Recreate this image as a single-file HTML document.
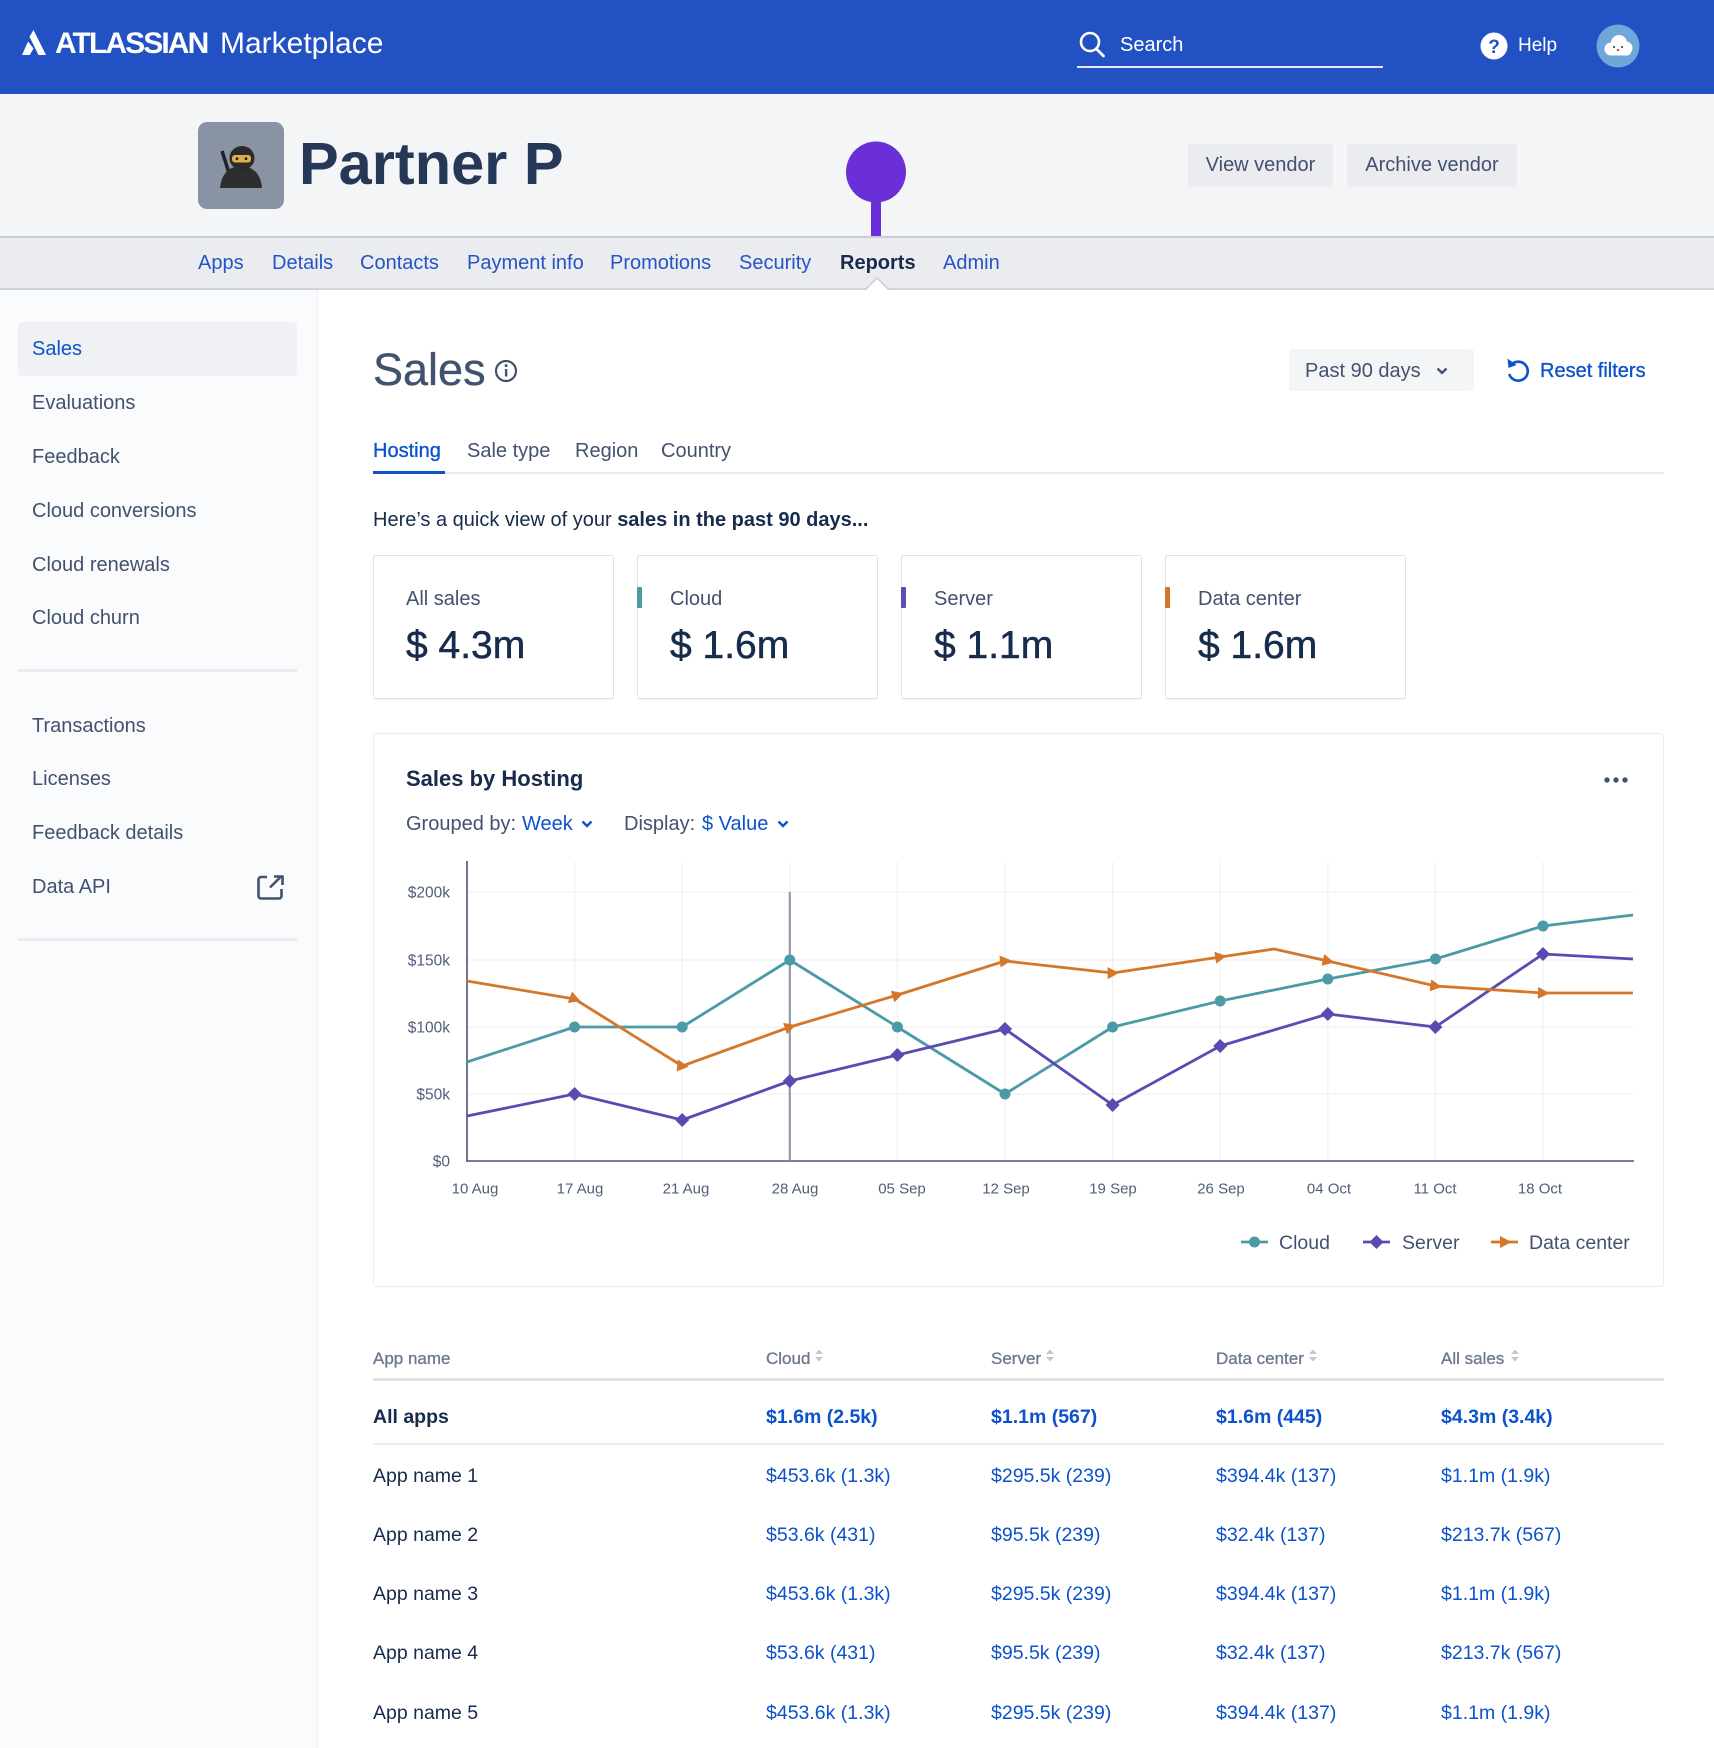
<!DOCTYPE html>
<html><head><meta charset="utf-8">
<style>
*{margin:0;padding:0;box-sizing:border-box}
html,body{width:1714px;height:1748px;overflow:hidden;background:#fff}
body{position:relative;font-family:"Liberation Sans",Arial,sans-serif;}
.a{position:absolute}
.t{position:absolute;line-height:1;white-space:nowrap}
.m{-webkit-text-stroke:0.35px currentColor}
.side{font-size:20px;color:#42526e;left:32px}
.nav{font-size:20px;color:#2453c6;top:252.5px}
.card{position:absolute;top:555px;width:241px;height:144px;border:1px solid #dfe1e6;border-radius:3px;background:#fff;box-shadow:0 1px 1px rgba(9,30,66,0.06)}
.cl{position:absolute;left:32px;top:33px;font-size:20px;line-height:1;color:#42526e;white-space:nowrap}
.cv{position:absolute;left:32px;top:70px;font-size:39px;line-height:1;color:#172b4d;white-space:nowrap;-webkit-text-stroke:0.5px #172b4d}
.bar{position:absolute;left:-1px;top:31px;width:5px;height:21px;border-radius:1px}
.th{font-size:17px;color:#6b778c;top:1349.5px;-webkit-text-stroke:0.3px #6b778c}
.tb{font-size:19.5px;font-weight:bold;top:1408px;color:#0c52cc}
.td{font-size:19.5px;color:#0c52cc}
.tn{font-size:19.5px;color:#172b4d;left:373px}
</style></head><body>

<!-- backgrounds -->
<div class="a" style="left:0;top:0;width:1714px;height:94px;background:#2251c4"></div>
<div class="a" style="left:0;top:94px;width:1714px;height:142px;background:#f4f5f7"></div>
<div class="a" style="left:0;top:236px;width:1714px;height:54px;background:#ebecf0;border-top:2px solid #c8ccd4;border-bottom:2px solid #d0d4db"></div>
<div class="a" style="left:0;top:290px;width:318px;height:1458px;background:#fafbfc;border-right:1px solid #eceef1"></div>
<div class="a" style="left:18px;top:322px;width:279px;height:54px;background:#f0f1f4;border-radius:4px"></div>
<div class="a" style="left:18px;top:669px;width:279px;height:3px;background:#ebecf0"></div>
<div class="a" style="left:18px;top:938px;width:279px;height:3px;background:#ebecf0"></div>

<!-- buttons -->
<div class="a" style="left:1188px;top:144px;width:145px;height:43px;background:#ebecf0;border-radius:3px;font-size:20px;line-height:43px;text-align:center;color:#42526e">View vendor</div>
<div class="a" style="left:1347px;top:144px;width:170px;height:43px;background:#ebecf0;border-radius:3px;font-size:20px;line-height:43px;text-align:center;color:#42526e">Archive vendor</div>
<div class="a" style="left:1289px;top:349px;width:185px;height:42px;background:#f4f5f7;border-radius:3px"></div>

<!-- tabs lines -->
<div class="a" style="left:373px;top:472px;width:1291px;height:2px;background:#ebecf0"></div>
<div class="a" style="left:373px;top:471px;width:72px;height:3px;background:#0c52cc"></div>

<!-- cards -->
<div class="card" style="left:373px"><div class="cl">All sales</div><div class="cv">$ 4.3m</div></div>
<div class="card" style="left:637px"><div class="bar" style="background:#4a9ba3"></div><div class="cl">Cloud</div><div class="cv">$ 1.6m</div></div>
<div class="card" style="left:901px"><div class="bar" style="background:#5e4db2"></div><div class="cl">Server</div><div class="cv">$ 1.1m</div></div>
<div class="card" style="left:1165px"><div class="bar" style="background:#d2752a"></div><div class="cl">Data center</div><div class="cv">$ 1.6m</div></div>

<!-- chart card -->
<div class="a" style="left:373px;top:733px;width:1291px;height:554px;border:1px solid #ebecf0;border-radius:4px;background:#fff"></div>

<!-- table lines -->
<div class="a" style="left:373px;top:1378px;width:1291px;height:3px;background:#dfe1e6"></div>
<div class="a" style="left:373px;top:1443px;width:1291px;height:2px;background:#ebecf0"></div>

<svg class="a" style="left:0;top:0" width="1714" height="1748" xmlns="http://www.w3.org/2000/svg">
<!-- logo mark -->
<polygon points="33.5,30 46,55 38.5,55 29.5,36.8" fill="#fff"/>
<polygon points="28,41.5 33.5,48.5 29.8,55 22,55" fill="#fff"/>
<!-- search -->
<circle cx="1090" cy="42" r="9" fill="none" stroke="#fff" stroke-width="2.6"/>
<line x1="1096.5" y1="49" x2="1103.5" y2="56" stroke="#fff" stroke-width="2.8" stroke-linecap="round"/>
<rect x="1077" y="66" width="306" height="2" fill="#e3e9f8"/>
<!-- help -->
<circle cx="1494" cy="46" r="13.5" fill="#fff"/>
<text x="1494" y="53" font-family="Liberation Sans" font-size="19" font-weight="bold" fill="#2251c4" text-anchor="middle">?</text>
<!-- user avatar -->
<circle cx="1618" cy="46" r="21.5" fill="#6fa7d8"/>
<circle cx="1611" cy="49" r="6.5" fill="#fff"/>
<circle cx="1619" cy="43" r="8" fill="#fff"/>
<circle cx="1626" cy="48" r="6.5" fill="#fff"/>
<rect x="1607" y="47" width="24" height="8.5" rx="4" fill="#fff"/>
<circle cx="1614" cy="47" r="1" fill="#333"/>
<circle cx="1622" cy="47" r="1" fill="#333"/>
<circle cx="1618" cy="50" r="1.3" fill="#e0566a"/>
<!-- partner avatar -->
<rect x="198" y="122" width="86" height="87" rx="9" fill="#8993a4"/>
<line x1="222" y1="151" x2="229" y2="173" stroke="#222" stroke-width="3.5"/>
<path d="M220,188 Q222,167 241,166 Q260,167 262,188 Z" fill="#2e2e2e"/>
<ellipse cx="242" cy="158" rx="12.5" ry="12" fill="#2b2b2b"/>
<rect x="232" y="155" width="19" height="7.5" rx="3" fill="#e2b04a"/>
<circle cx="237" cy="158.7" r="1.4" fill="#222"/>
<circle cx="246" cy="158.7" r="1.4" fill="#222"/>
<!-- pin -->
<rect x="871" y="190" width="10" height="46" fill="#6a2fd6"/>
<ellipse cx="876" cy="172" rx="30" ry="30.5" fill="#6a2fd6"/>
<!-- nav triangle -->
<polygon points="865,291 877,278 889,291" fill="#fff"/>
<polyline points="865,290 877,278 889,290" fill="none" stroke="#c8ccd4" stroke-width="1.5"/>
<!-- info icon -->
<circle cx="506" cy="371" r="10" fill="none" stroke="#42526e" stroke-width="2.2"/>
<rect x="504.9" y="369" width="2.4" height="7.5" fill="#42526e"/>
<circle cx="506.1" cy="365.6" r="1.5" fill="#42526e"/>
<!-- dropdown chevron -->
<polyline points="1437.5,368.5 1442,373 1446.5,368.5" fill="none" stroke="#42526e" stroke-width="2.3"/>
<!-- reset icon -->
<path d="M1511.5,364.5 A9.5,9.5 0 1 1 1509.2,374" fill="none" stroke="#0c52cc" stroke-width="2.6"/>
<polygon points="1507.5,358.5 1508.5,368 1516.5,365" fill="#0c52cc"/>
<!-- external link icon -->
<path d="M267,877 H261 a2.5,2.5 0 0 0 -2.5,2.5 V896 a2.5,2.5 0 0 0 2.5,2.5 H279 a2.5,2.5 0 0 0 2.5,-2.5 V889" fill="none" stroke="#42526e" stroke-width="2.6"/>
<line x1="270" y1="887.5" x2="281" y2="876.5" stroke="#42526e" stroke-width="2.6"/>
<polyline points="274,876.5 282.5,876.5 282.5,885" fill="none" stroke="#42526e" stroke-width="2.6"/>
<!-- more dots -->
<circle cx="1607" cy="780" r="2.7" fill="#42526e"/>
<circle cx="1616" cy="780" r="2.7" fill="#42526e"/>
<circle cx="1625" cy="780" r="2.7" fill="#42526e"/>
<!-- filter chevrons -->
<polyline points="582.5,821.5 587,826 591.5,821.5" fill="none" stroke="#0c52cc" stroke-width="2.4"/>
<polyline points="778.5,821.5 783,826 787.5,821.5" fill="none" stroke="#0c52cc" stroke-width="2.4"/>

<!-- chart grid -->
<g stroke="#f0f1f3" stroke-width="1.2">
<line x1="467" y1="892" x2="1633" y2="892"/>
<line x1="467" y1="960" x2="1633" y2="960"/>
<line x1="467" y1="1027" x2="1633" y2="1027"/>
<line x1="467" y1="1094" x2="1633" y2="1094"/>
<line x1="574.6" y1="862" x2="574.6" y2="1161"/>
<line x1="682.2" y1="862" x2="682.2" y2="1161"/>
<line x1="789.8" y1="862" x2="789.8" y2="1161"/>
<line x1="897.4" y1="862" x2="897.4" y2="1161"/>
<line x1="1005" y1="862" x2="1005" y2="1161"/>
<line x1="1112.6" y1="862" x2="1112.6" y2="1161"/>
<line x1="1220.2" y1="862" x2="1220.2" y2="1161"/>
<line x1="1327.8" y1="862" x2="1327.8" y2="1161"/>
<line x1="1435.4" y1="862" x2="1435.4" y2="1161"/>
<line x1="1543" y1="862" x2="1543" y2="1161"/>
</g>
<line x1="467" y1="861" x2="467" y2="1161" stroke="#4a5670" stroke-width="1.6"/>
<line x1="466" y1="1161" x2="1634" y2="1161" stroke="#4a5670" stroke-width="1.6"/>
<line x1="789.8" y1="892" x2="789.8" y2="1161" stroke="#8993a4" stroke-width="2"/>

<g font-family="Liberation Sans" font-size="15.5" fill="#505f79" text-anchor="end">
<text x="450" y="897.5">$200k</text>
<text x="450" y="965.5">$150k</text>
<text x="450" y="1032.5">$100k</text>
<text x="450" y="1099.5">$50k</text>
<text x="450" y="1166.5">$0</text>
</g>
<g font-family="Liberation Sans" font-size="15" fill="#505f79" text-anchor="middle">
<text x="475" y="1193.5">10 Aug</text>
<text x="580" y="1193.5">17 Aug</text>
<text x="686" y="1193.5">21 Aug</text>
<text x="795" y="1193.5">28 Aug</text>
<text x="902" y="1193.5">05 Sep</text>
<text x="1006" y="1193.5">12 Sep</text>
<text x="1113" y="1193.5">19 Sep</text>
<text x="1221" y="1193.5">26 Sep</text>
<text x="1329" y="1193.5">04 Oct</text>
<text x="1435" y="1193.5">11 Oct</text>
<text x="1540" y="1193.5">18 Oct</text>
</g>

<!-- series -->
<polyline fill="none" stroke="#4a9ba6" stroke-width="2.8" stroke-linejoin="round" points="467,1062 574.6,1027 682.2,1027 789.8,960 897.4,1027 1005,1094 1112.6,1027 1220.2,1001 1327.8,979 1435.4,959 1543,926 1633,915"/>
<polyline fill="none" stroke="#5b4ab1" stroke-width="2.8" stroke-linejoin="round" points="467,1116 574.6,1094 682.2,1120 789.8,1081 897.4,1055 1005,1029 1112.6,1105 1220.2,1046 1327.8,1014 1435.4,1027 1543,954 1633,959"/>
<polyline fill="none" stroke="#d4772b" stroke-width="2.8" stroke-linejoin="round" points="467,981 574.6,999 682.2,1066 789.8,1027 897.4,995 1005,961 1112.6,973 1220.2,957 1274,949 1327.8,961 1435.4,986 1543,993 1633,993"/>

<g fill="#4a9ba6">
<circle cx="574.6" cy="1027" r="5.5"/><circle cx="682.2" cy="1027" r="5.5"/><circle cx="789.8" cy="960" r="5.5"/>
<circle cx="897.4" cy="1027" r="5.5"/><circle cx="1005" cy="1094" r="5.5"/><circle cx="1112.6" cy="1027" r="5.5"/>
<circle cx="1220.2" cy="1001" r="5.5"/><circle cx="1327.8" cy="979" r="5.5"/><circle cx="1435.4" cy="959" r="5.5"/>
<circle cx="1543" cy="926" r="5.5"/>
</g>
<g fill="#5b4ab1">
<polygon points="574.6,1087 581.6,1094 574.6,1101 567.6,1094"/>
<polygon points="682.2,1113 689.2,1120 682.2,1127 675.2,1120"/>
<polygon points="789.8,1074 796.8,1081 789.8,1088 782.8,1081"/>
<polygon points="897.4,1048 904.4,1055 897.4,1062 890.4,1055"/>
<polygon points="1005,1022 1012,1029 1005,1036 998,1029"/>
<polygon points="1112.6,1098 1119.6,1105 1112.6,1112 1105.6,1105"/>
<polygon points="1220.2,1039 1227.2,1046 1220.2,1053 1213.2,1046"/>
<polygon points="1327.8,1007 1334.8,1014 1327.8,1021 1320.8,1014"/>
<polygon points="1435.4,1020 1442.4,1027 1435.4,1034 1428.4,1027"/>
<polygon points="1543,947 1550,954 1543,961 1536,954"/>
</g>
<g fill="#d4772b">
<polygon points="-5,-6 6.5,0 -5,6" transform="translate(574.6,999) rotate(20.7)"/>
<polygon points="-5,-6 6.5,0 -5,6" transform="translate(682.2,1066) rotate(6)"/>
<polygon points="-5,-6 6.5,0 -5,6" transform="translate(789.8,1027) rotate(-18.3)"/>
<polygon points="-5,-6 6.5,0 -5,6" transform="translate(897.4,995) rotate(-17)"/>
<polygon points="-5,-6 6.5,0 -5,6" transform="translate(1005,961) rotate(-5.5)"/>
<polygon points="-5,-6 6.5,0 -5,6" transform="translate(1112.6,973) rotate(-1)"/>
<polygon points="-5,-6 6.5,0 -5,6" transform="translate(1220.2,957) rotate(-8.5)"/>
<polygon points="-5,-6 6.5,0 -5,6" transform="translate(1327.8,961) rotate(12.8)"/>
<polygon points="-5,-6 6.5,0 -5,6" transform="translate(1435.4,986) rotate(8.4)"/>
<polygon points="-5,-6 6.5,0 -5,6" transform="translate(1543,993) rotate(1.8)"/>
</g>

<!-- legend -->
<line x1="1241" y1="1242" x2="1268" y2="1242" stroke="#4a9ba6" stroke-width="2.8"/>
<circle cx="1254.5" cy="1242" r="5.5" fill="#4a9ba6"/>
<line x1="1363" y1="1242" x2="1390" y2="1242" stroke="#5b4ab1" stroke-width="2.8"/>
<polygon points="1376.5,1235 1383.5,1242 1376.5,1249 1369.5,1242" fill="#5b4ab1"/>
<line x1="1491" y1="1242" x2="1518" y2="1242" stroke="#d4772b" stroke-width="2.8"/>
<polygon points="1500,1236 1511.5,1242 1500,1248" fill="#d4772b"/>
<g font-family="Liberation Sans" font-size="19.5" fill="#42526e">
<text x="1279" y="1249">Cloud</text>
<text x="1402" y="1249">Server</text>
<text x="1529" y="1249">Data center</text>
</g>

<!-- sort icons -->
<g fill="#c1c7d0">
<polygon points="815,1354 819,1349.5 823,1354"/><polygon points="815,1357 819,1361.5 823,1357"/>
<polygon points="1046,1354 1050,1349.5 1054,1354"/><polygon points="1046,1357 1050,1361.5 1054,1357"/>
<polygon points="1309,1354 1313,1349.5 1317,1354"/><polygon points="1309,1357 1313,1361.5 1317,1357"/>
<polygon points="1511,1354 1515,1349.5 1519,1354"/><polygon points="1511,1357 1515,1361.5 1519,1357"/>
</g>
</svg>

<!-- top bar text -->
<div class="t" style="left:55px;top:29px;font-size:30px;font-weight:bold;letter-spacing:-1.9px;color:#fff">ATLASSIAN</div>
<div class="t" style="left:220px;top:29px;font-size:30px;color:#fff">Marketplace</div>
<div class="t" style="left:1120px;top:35px;font-size:20px;color:#fff">Search</div>
<div class="t" style="left:1518px;top:35.5px;font-size:19px;color:#fff">Help</div>

<!-- header -->
<div class="t" style="left:299px;top:133.5px;font-size:59.5px;font-weight:bold;color:#253858">Partner P</div>

<!-- nav -->
<div class="t nav" style="left:198px">Apps</div>
<div class="t nav" style="left:272px">Details</div>
<div class="t nav" style="left:360px">Contacts</div>
<div class="t nav" style="left:467px">Payment info</div>
<div class="t nav" style="left:610px">Promotions</div>
<div class="t nav" style="left:739px">Security</div>
<div class="t nav" style="left:840px;color:#172b4d;font-weight:bold">Reports</div>
<div class="t nav" style="left:943px">Admin</div>

<!-- sidebar -->
<div class="t side" style="top:339px;color:#0c52cc">Sales</div>
<div class="t side" style="top:393px">Evaluations</div>
<div class="t side" style="top:447px">Feedback</div>
<div class="t side" style="top:501px">Cloud conversions</div>
<div class="t side" style="top:555px">Cloud renewals</div>
<div class="t side" style="top:608px">Cloud churn</div>
<div class="t side" style="top:716px">Transactions</div>
<div class="t side" style="top:769px">Licenses</div>
<div class="t side" style="top:823px">Feedback details</div>
<div class="t side" style="top:877px">Data API</div>

<!-- main heading -->
<div class="t m" style="left:373px;top:347px;font-size:45px;color:#42526e">Sales</div>
<div class="t" style="left:1305px;top:361px;font-size:20px;color:#42526e">Past 90 days</div>
<div class="t m" style="left:1540px;top:361px;font-size:20px;color:#0c52cc">Reset filters</div>

<div class="t m" style="left:373px;top:441px;font-size:20px;color:#0c52cc">Hosting</div>
<div class="t" style="left:467px;top:441px;font-size:20px;color:#42526e">Sale type</div>
<div class="t" style="left:575px;top:441px;font-size:20px;color:#42526e">Region</div>
<div class="t" style="left:661px;top:441px;font-size:20px;color:#42526e">Country</div>

<div class="t" style="left:373px;top:510px;font-size:20px;color:#172b4d">Here’s a quick view of your <b>sales in the past 90 days...</b></div>

<!-- chart header -->
<div class="t" style="left:406px;top:767.5px;font-size:22px;font-weight:bold;color:#172b4d">Sales by Hosting</div>
<div class="t" style="left:406px;top:814px;font-size:20px;color:#42526e">Grouped by:</div>
<div class="t" style="left:522px;top:814px;font-size:20px;color:#0c52cc">Week</div>
<div class="t" style="left:624px;top:814px;font-size:20px;color:#42526e">Display:</div>
<div class="t" style="left:702px;top:814px;font-size:20px;color:#0c52cc">$ Value</div>

<!-- table -->
<div class="t th" style="left:373px">App name</div>
<div class="t th" style="left:766px">Cloud</div>
<div class="t th" style="left:991px">Server</div>
<div class="t th" style="left:1216px">Data center</div>
<div class="t th" style="left:1441px">All sales</div>

<div class="t tb" style="left:373px;color:#172b4d">All apps</div>
<div class="t tb" style="left:766px">$1.6m (2.5k)</div>
<div class="t tb" style="left:991px">$1.1m (567)</div>
<div class="t tb" style="left:1216px">$1.6m (445)</div>
<div class="t tb" style="left:1441px">$4.3m (3.4k)</div>

<div class="t tn" style="top:1467px">App name 1</div>
<div class="t td" style="left:766px;top:1467px">$453.6k (1.3k)</div>
<div class="t td" style="left:991px;top:1467px">$295.5k (239)</div>
<div class="t td" style="left:1216px;top:1467px">$394.4k (137)</div>
<div class="t td" style="left:1441px;top:1467px">$1.1m (1.9k)</div>

<div class="t tn" style="top:1526px">App name 2</div>
<div class="t td" style="left:766px;top:1526px">$53.6k (431)</div>
<div class="t td" style="left:991px;top:1526px">$95.5k (239)</div>
<div class="t td" style="left:1216px;top:1526px">$32.4k (137)</div>
<div class="t td" style="left:1441px;top:1526px">$213.7k (567)</div>

<div class="t tn" style="top:1585px">App name 3</div>
<div class="t td" style="left:766px;top:1585px">$453.6k (1.3k)</div>
<div class="t td" style="left:991px;top:1585px">$295.5k (239)</div>
<div class="t td" style="left:1216px;top:1585px">$394.4k (137)</div>
<div class="t td" style="left:1441px;top:1585px">$1.1m (1.9k)</div>

<div class="t tn" style="top:1644px">App name 4</div>
<div class="t td" style="left:766px;top:1644px">$53.6k (431)</div>
<div class="t td" style="left:991px;top:1644px">$95.5k (239)</div>
<div class="t td" style="left:1216px;top:1644px">$32.4k (137)</div>
<div class="t td" style="left:1441px;top:1644px">$213.7k (567)</div>

<div class="t tn" style="top:1704px">App name 5</div>
<div class="t td" style="left:766px;top:1704px">$453.6k (1.3k)</div>
<div class="t td" style="left:991px;top:1704px">$295.5k (239)</div>
<div class="t td" style="left:1216px;top:1704px">$394.4k (137)</div>
<div class="t td" style="left:1441px;top:1704px">$1.1m (1.9k)</div>

</body></html>
